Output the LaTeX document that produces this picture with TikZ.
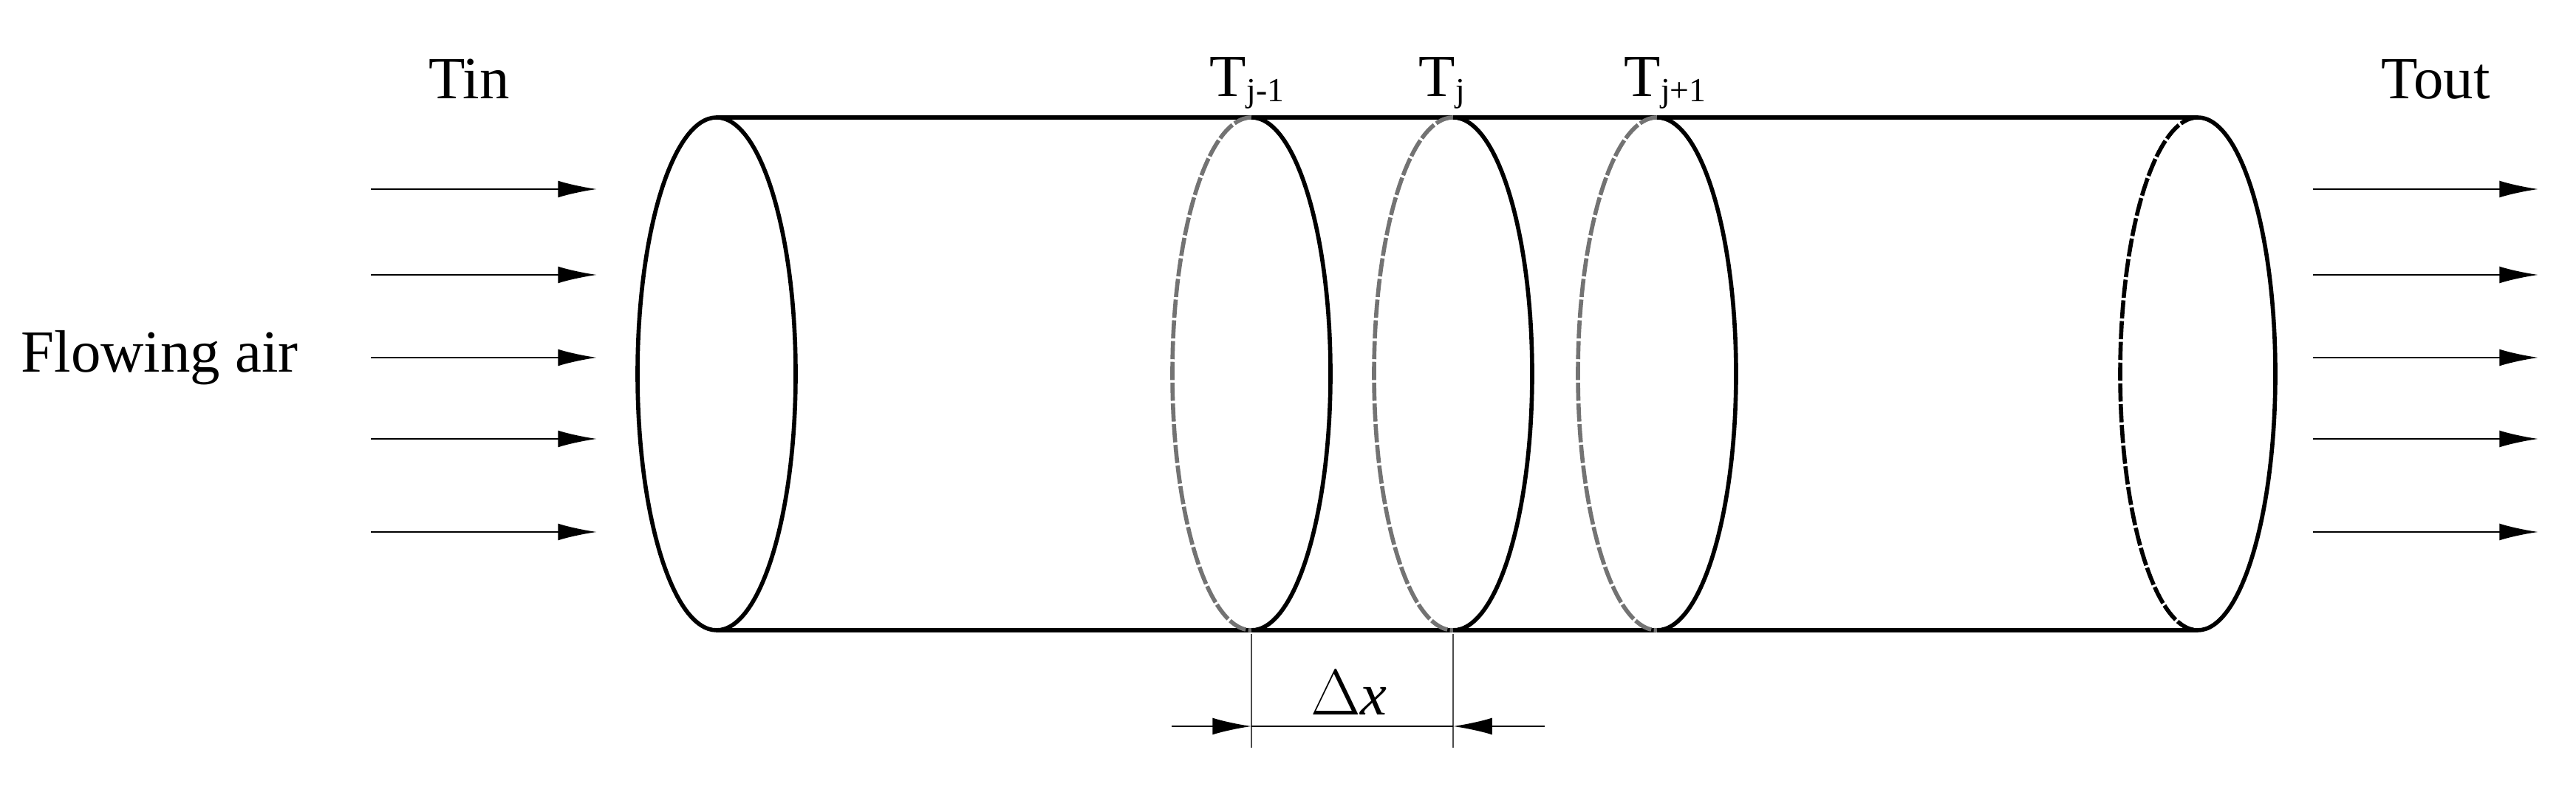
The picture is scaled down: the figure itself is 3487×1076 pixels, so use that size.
\documentclass[tikz,border=0pt]{standalone}
\usepackage{fontspec}
\setmainfont{Liberation Serif}
\usetikzlibrary{arrows.meta}
\begin{document}
\begin{tikzpicture}[x=0.01cm,y=0.01cm,
  solidl/.style={line width=1.6pt,black},
  dashl/.style={line width=1.6pt,black!55,dash pattern=on 7pt off 1pt},
  dashk/.style={line width=1.6pt,black,dash pattern=on 7pt off 1pt},
  flow/.style={line width=0.7pt,-{Latex[length=15pt,width=6.5pt]}},
  dim/.style={line width=0.6pt},
  lbl/.style={font=\fontsize{23}{28}\selectfont,inner sep=0pt,anchor=base}]
\useasboundingbox (0,0) rectangle (3487,1076);
% tube lines
\coordinate (tl) at (970,917); \coordinate (tr) at (2975,917);
\coordinate (bl) at (970,223); \coordinate (br) at (2975,223);
\draw[solidl] (tl) -- (tr);
\draw[solidl] (bl) -- (br);
% left end ellipse
\draw[solidl] (970,570) ellipse[x radius=107,y radius=347];
% middle sections
\foreach \cx in {1694,1967,2243}{
  \draw[dashl] (\cx,917) arc[start angle=90,end angle=270,x radius=107,y radius=347];
  \draw[solidl] (\cx,223) arc[start angle=-90,end angle=90,x radius=107,y radius=347];
}
% right end
\draw[dashk] (2975,917) arc[start angle=90,end angle=270,x radius=105,y radius=347];
\draw[solidl] (2975,223) arc[start angle=-90,end angle=90,x radius=105,y radius=347];
% flow arrows
\foreach \i/\y in {1/820,2/704,3/592,4/482,5/356}{
  \coordinate (a\i) at (502,\y); \coordinate (b\i) at (808,\y);
  \coordinate (c\i) at (3131,\y); \coordinate (d\i) at (3436,\y);
  \draw[flow] (a\i) -- (b\i);
  \draw[flow] (c\i) -- (d\i);
}
% labels
\node[lbl] (tin) at (635,942) {Tin};
\node[lbl] (tout) at (3297,942) {Tout};
\node[lbl,anchor=base west] (air) at (28,572) {Flowing air};
\node[lbl] (tjm) at (1688,945) {T\raisebox{-0.08em}{\fontsize{13}{15}\selectfont j-1}};
\node[lbl] (tj) at (1952,945) {T\raisebox{-0.08em}{\fontsize{13}{15}\selectfont j}};
\node[lbl] (tjp) at (2254,945) {T\raisebox{-0.08em}{\fontsize{13}{15}\selectfont j+1}};
% dimension
\coordinate (e1t) at (1694,218); \coordinate (e1b) at (1694,64);
\coordinate (e2t) at (1967,218); \coordinate (e2b) at (1967,64);
\draw[dim,black!70] (e1t) -- (e1b);
\draw[dim,black!70] (e2t) -- (e2b);
\coordinate (d1s) at (1586,93); \coordinate (d1e) at (1694,93);
\coordinate (d2s) at (2091,93); \coordinate (d2e) at (1967,93);
\draw[dim] (d1e) -- (d2e);
\draw[dim,-{Latex[length=15pt,width=6.5pt]}] (d1s) -- (d1e);
\draw[dim,-{Latex[length=15pt,width=6.5pt]}] (d2s) -- (d2e);
\node[lbl] (dx) at (1826,108) {$\Delta\mathit{x}$};
\end{tikzpicture}
\end{document}
